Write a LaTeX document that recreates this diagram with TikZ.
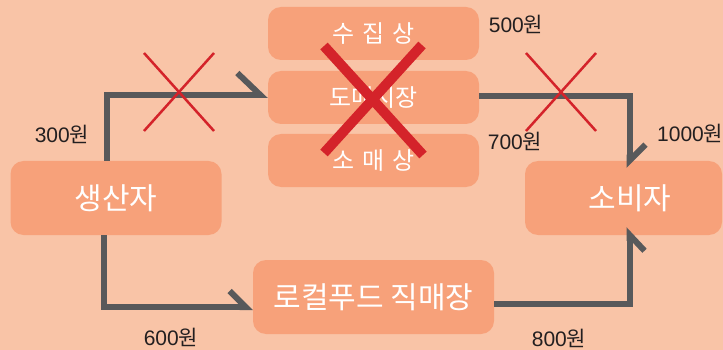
\documentclass[tikz,border=0pt]{standalone}
\usepackage{fontspec}
\setmainfont{Noto Sans CJK KR}
\newfontfamily\digitfont{Liberation Sans}
\usetikzlibrary{arrows.meta}
\definecolor{bg}{RGB}{249,196,167}
\definecolor{boxc}{RGB}{247,161,122}
\definecolor{linec}{RGB}{88,89,91}
\definecolor{crossc}{RGB}{212,35,42}
\definecolor{txt}{RGB}{35,31,32}
\tikzset{
  box/.style={fill=boxc, rounded corners=13pt, text=white, inner sep=0pt},
  bigbox/.style={box, minimum height=74pt, font=\fontsize{30}{34}\selectfont},
  smallbox/.style={box, minimum width=211pt, minimum height=53pt, font=\fontsize{24}{28}\selectfont},
  wide/.style={execute at begin node={\spaceskip=8pt\relax}},
  price/.style={text=txt, font=\fontsize{21}{25}\selectfont, inner sep=0pt},
  conn/.style={draw=linec, line width=6pt, line join=miter},
  tipBig/.style={-{Straight Barb[left, length=23pt, width=44pt, line join=miter, line cap=butt]}},
  tipL/.style={-{Straight Barb[left, length=16pt, width=32pt, line join=miter, line cap=butt]}},
  tipR/.style={-{Straight Barb[right, length=16pt, width=30pt, line join=miter, line cap=butt]}},
  crossbig/.style={draw=crossc, line width=10pt, line cap=butt},
  crosssmall/.style={draw=crossc, line width=2.5pt, line cap=butt},
}
\begin{document}
\begin{tikzpicture}[x=1pt,y=-1pt]
  \fill[bg] (0,0) rectangle (723,350);
  \useasboundingbox (0,0) rectangle (723,350);

  % boxes
  \node[bigbox, minimum width=211pt] (prod) at (116,198) {생산자};
  \node[smallbox, wide] (coll) at (373.5,33.5) {수 집 상};
  \node[smallbox] (whole) at (373.5,97.5) {도매시장};
  \node[smallbox, wide] (retail) at (373.5,160.5) {소 매 상};
  \node[bigbox, minimum width=197pt] (cons) at (623.5,198) {\hspace*{13pt}소비자};
  \node[bigbox, minimum width=241pt] (local) at (373.5,297) {로컬푸드 직매장};

  % connectors
  \draw[conn, tipBig] ([xshift=-9pt]prod.north) |- ([yshift=2.5pt]whole.west);
  \draw[conn, tipL] ([xshift=-12pt]prod.south) |- ([yshift=-10pt]local.west);
  \draw[conn, tipL, shorten >=-7pt] ([yshift=1pt]whole.east) -| ([xshift=6pt]cons.north);
  \draw[conn, tipR, shorten >=-8pt] ([yshift=-6.5pt]local.east) -| ([xshift=6pt]cons.south);

  % crosses
  \draw[crossbig] (324,46) -- (423,155) (422,45) -- (324,153);
  \draw[crosssmall] (144,53) -- (214,131) (214,53) -- (144,131);
  \draw[crosssmall] (526,53) -- (596,131) (596,53) -- (526,131);

  % prices
  \node[price] (p500) at (516,24) {{\digitfont 500}원};
  \node[price] (p300) at (62,134) {{\digitfont 300}원};
  \node[price] (p700) at (515,141) {{\digitfont 700}원};
  \node[price, anchor=west] (p1000) at (657,133) {{\digitfont 1000}원};
  \node[price] (p600) at (171,337) {{\digitfont 600}원};
  \node[price] (p800) at (559,338) {{\digitfont 800}원};
\end{tikzpicture}
\end{document}
